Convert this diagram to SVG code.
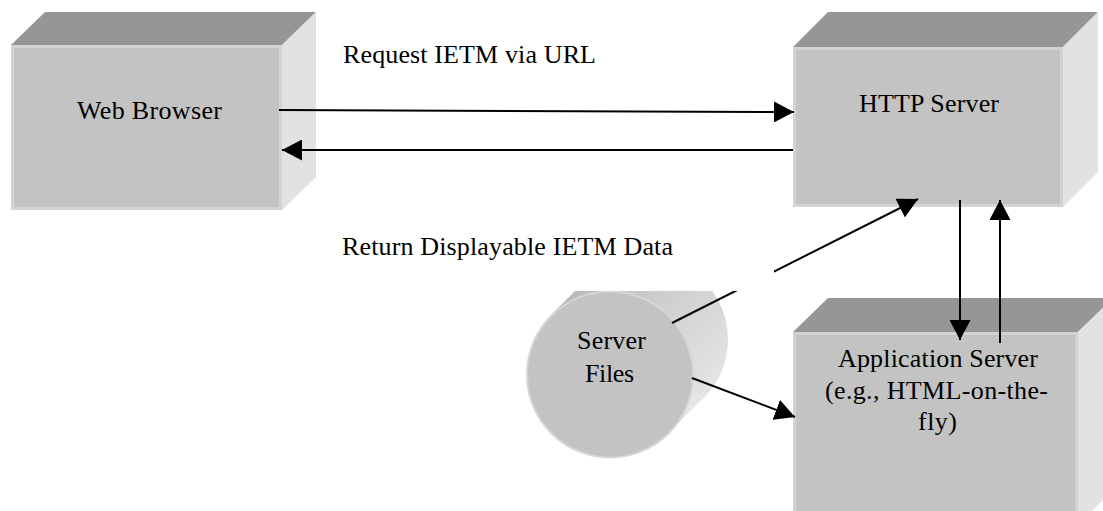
<svg xmlns="http://www.w3.org/2000/svg" width="1103" height="511" viewBox="0 0 1103 511">
<style>
.front{fill:#c3c3c3;stroke:#d3d3d3;stroke-width:3}
.top{fill:#969696}
.side{fill:#e2e2e2}
.lbl{font-family:"Liberation Serif","Times New Roman",serif;font-size:26px;fill:#000}
.conn{stroke:#000;stroke-width:2;fill:none;marker-end:url(#ah)}
</style>
<defs>
<marker id="ah" markerUnits="userSpaceOnUse" markerWidth="20" markerHeight="21" refX="20" refY="10.5" orient="auto">
<path d="M0,0 L20,10.5 L0,21 Z" fill="#000"/>
</marker>
<linearGradient id="cylg" x1="0" y1="0" x2="1" y2="1">
<stop offset="0" stop-color="#b4b4b4"/>
<stop offset="0.5" stop-color="#d2d2d2"/>
<stop offset="1" stop-color="#ececec"/>
</linearGradient>
</defs>
<rect width="1103" height="511" fill="#fff"/>
<g id="web-browser">
<polygon class="top" points="11,45 45,12 316,12 282,45"/>
<polygon class="side" points="282,45 316,12 316,177 282,210"/>
<rect class="front" x="12.5" y="46.5" width="268" height="162"/>
<text class="lbl" x="77" y="119" textLength="145">Web Browser</text>
</g>
<g id="http-server">
<polygon class="top" points="793,47 828,12 1098,12 1063,47"/>
<polygon class="side" points="1063,47 1098,12 1098,172 1063,207"/>
<rect class="front" x="794.5" y="48.5" width="267" height="157"/>
<text class="lbl" x="859" y="112" textLength="140">HTTP Server</text>
</g>
<g id="application-server">
<polygon class="top" points="793,332 828,298 1113,298 1078,332"/>
<polygon class="side" points="1078,332 1113,298 1113,490 1078,525"/>
<rect class="front" x="794.5" y="333.5" width="282" height="200"/>
<text class="lbl" x="838" y="367" textLength="200">Application Server</text>
<text class="lbl" x="825" y="399" textLength="223">(e.g., HTML-on-the-</text>
<text class="lbl" x="918" y="430" textLength="39">fly)</text>
</g>
<g id="server-files">
<path d="M550.5,315.8 L585.5,280.8 A83,83 0 0 1 703,398 L668,433 Z" fill="url(#cylg)"/>
<circle cx="645" cy="339.5" r="83" fill="url(#cylg)"/>
<path d="M550.5,315.8 L585.5,280.8 L703,398 L668,433 Z" fill="url(#cylg)"/>
<circle cx="610" cy="374.5" r="83" fill="#c3c3c3" stroke="#d6d6d6" stroke-width="2"/>
<text class="lbl" x="577" y="349" textLength="69">Server</text>
<text class="lbl" x="585" y="382" textLength="49">Files</text>
</g>
<g id="connectors">
<line class="conn" x1="279" y1="110" x2="794" y2="112"/>
<line class="conn" x1="793" y1="150" x2="282" y2="150"/>
<line class="conn" x1="672" y1="323" x2="918" y2="199"/>
<line class="conn" x1="960" y1="200" x2="960" y2="340"/>
<line class="conn" x1="1000" y1="343" x2="1000" y2="200"/>
<line class="conn" x1="692" y1="378" x2="795" y2="417"/>
</g>
<g id="label-request">
<text class="lbl" x="343" y="63" textLength="253">Request IETM via URL</text>
</g>
<g id="label-return">
<rect x="335" y="228" width="439" height="63" fill="#fff"/>
<text class="lbl" x="342" y="255" textLength="331">Return Displayable IETM Data</text>
</g>
</svg>
